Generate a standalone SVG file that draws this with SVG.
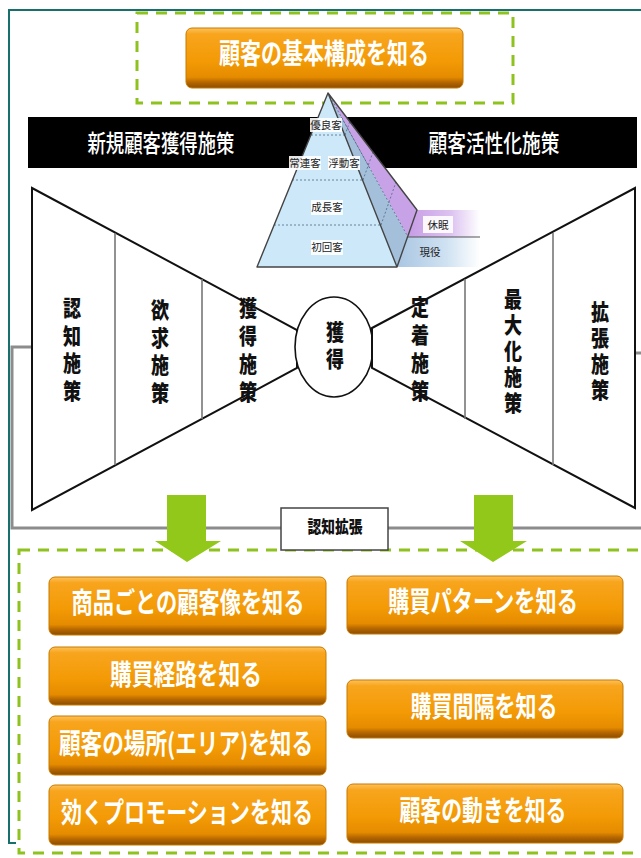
<svg xmlns="http://www.w3.org/2000/svg" width="641" height="858" viewBox="0 0 641 858">
<style>
.jp{font-family:"Noto Sans CJK JP","Noto Sans CJK SC",sans-serif}
.ob{fill:url(#og);stroke:#C67A00;stroke-width:1}
.ot{fill:#fff;font-size:28px;font-weight:700;text-anchor:middle}
.vt{fill:#111;font-size:22px;font-weight:900;text-anchor:middle;writing-mode:vertical-rl;text-orientation:upright}
.lab{fill:#222;font-size:10.5px;text-anchor:middle}
.lbg{fill:#fff;opacity:0.9}
.dash{fill:none;stroke:#8DC21F;stroke-width:3;stroke-dasharray:11 8}
.fl{fill:#fff;stroke:#111;stroke-width:2}
.div{stroke:#777;stroke-width:1.6}
.pd{stroke:#4a6a86;stroke-width:0.8;stroke-dasharray:2 2;fill:none}
.ga{fill:#92C81A}
</style>
<defs>
<linearGradient id="og" x1="0" y1="0" x2="0" y2="1">
<stop offset="0" stop-color="#FDC25A"/>
<stop offset="0.1" stop-color="#F8A51E"/>
<stop offset="0.55" stop-color="#F39A05"/>
<stop offset="0.82" stop-color="#E58B00"/>
<stop offset="0.9" stop-color="#B86800"/>
<stop offset="1" stop-color="#8A4C00"/>
</linearGradient>
<linearGradient id="pg" x1="0" y1="0" x2="1" y2="0">
<stop offset="0" stop-color="#C79CE6"/>
<stop offset="0.6" stop-color="#DCC3F0"/>
<stop offset="1" stop-color="#FFFFFF"/>
</linearGradient>
<linearGradient id="bg2" x1="0" y1="0" x2="1" y2="0">
<stop offset="0" stop-color="#A9C6E2"/>
<stop offset="0.6" stop-color="#D0E2F2"/>
<stop offset="1" stop-color="#FFFFFF"/>
</linearGradient>
</defs>
<rect width="641" height="858" fill="#fff"/>
<path d="M641,10 H9 V843 H16" fill="none" stroke="#17706E" stroke-width="2"/>

<g id="top-area">
<rect class="dash" x="137" y="13" width="376" height="90"/>
<g id="node-basic">
<rect class="ob" x="186" y="28" width="277" height="60" rx="6"/>
<text class="jp ot" x="324" y="64" textLength="210" lengthAdjust="spacingAndGlyphs">顧客の基本構成を知る</text>
</g>
</g>

<g id="header-bar">
<rect x="28" y="117" width="609" height="51" fill="#000"/>
<text class="jp" x="161" y="152" fill="#fff" font-size="24" font-weight="500" text-anchor="middle" textLength="147" lengthAdjust="spacingAndGlyphs">新規顧客獲得施策</text>
<text class="jp" x="494" y="152" fill="#fff" font-size="24" font-weight="500" text-anchor="middle" textLength="131" lengthAdjust="spacingAndGlyphs">顧客活性化施策</text>
</g>

<g id="connectors">
<path d="M635,353 H652 V528 H12 V347 H32" fill="none" stroke="#8C8C8C" stroke-width="3"/>
<polygon points="31,341 41,347 31,353" fill="#8C8C8C"/>
</g>

<g id="funnel-left">
<polygon class="fl" points="32,188 297,330 297,368 32,510"/>
<line class="div" x1="115" y1="233" x2="115" y2="465"/>
<line class="div" x1="202" y1="279" x2="202" y2="419"/>
<text class="jp vt" transform="translate(72,0) scale(0.82,1)" x="0" y="352" letter-spacing="5.7">認知施策</text>
<text class="jp vt" transform="translate(160,0) scale(0.82,1)" x="0" y="354" letter-spacing="5.7">欲求施策</text>
<text class="jp vt" transform="translate(248,0) scale(0.82,1)" x="0" y="353" letter-spacing="6">獲得施策</text>
</g>

<g id="node-acquire">
<ellipse cx="334" cy="347" rx="39" ry="50" fill="#fff" stroke="#111" stroke-width="1.6"/>
<text class="jp vt" transform="translate(335,0) scale(0.82,1)" x="0" y="348" letter-spacing="5">獲得</text>
</g>

<g id="funnel-right">
<polygon class="fl" points="372,328 635,188 635,508 372,368"/>
<line class="div" x1="465" y1="279" x2="465" y2="419"/>
<line class="div" x1="553" y1="233" x2="553" y2="465"/>
<text class="jp vt" transform="translate(420,0) scale(0.82,1)" x="0" y="352" letter-spacing="6">定着施策</text>
<text class="jp vt" transform="translate(513,0) scale(0.82,1)" x="0" y="353" letter-spacing="4">最大化施策</text>
<text class="jp vt" transform="translate(600,0) scale(0.82,1)" x="0" y="353" letter-spacing="4">拡張施策</text>
</g>

<g id="pyramid">
<polygon points="417,210 480,210 480,237 408,237" fill="url(#pg)"/>
<polygon points="408,237 480,237 480,267 397,267" fill="url(#bg2)"/>
<line x1="408" y1="237" x2="480" y2="237" stroke="#555" stroke-width="1.2"/>
<polygon points="328,93 417,210 408,237" fill="#C8A2E6"/>
<polygon points="328,93 408,237 397,267" fill="#A3BFDA"/>
<polygon points="328,93 257,267 397,267" fill="#CDE8F8"/>
<line class="pd" x1="311" y1="135" x2="345" y2="135"/>
<line class="pd" x1="292" y1="180" x2="363" y2="180"/>
<line class="pd" x1="274" y1="225" x2="381" y2="225"/>
<line class="pd" x1="345" y1="135" x2="350" y2="121"/>
<line class="pd" x1="363" y1="180" x2="373" y2="152"/>
<line class="pd" x1="381" y1="225" x2="396" y2="182"/>
<line class="pd" x1="328" y1="93" x2="408" y2="237"/>
<path d="M328,93 L257,267 H397 Z M328,93 L417,210 L397,267" fill="none" stroke="#444" stroke-width="1.4" stroke-linejoin="round"/>
<rect class="lbg" x="310" y="118" width="32" height="14"/>
<text class="jp lab" x="326" y="129">優良客</text>
<rect class="lbg" x="289" y="156" width="32" height="14"/>
<text class="jp lab" x="305" y="167">常連客</text>
<rect class="lbg" x="328" y="156" width="32" height="14"/>
<text class="jp lab" x="344" y="167">浮動客</text>
<rect class="lbg" x="311" y="200" width="32" height="15"/>
<text class="jp lab" x="327" y="211">成長客</text>
<rect class="lbg" x="311" y="240" width="32" height="15"/>
<text class="jp lab" x="327" y="251">初回客</text>
<rect class="lbg" x="423" y="216" width="30" height="17"/>
<text class="jp lab" x="438" y="229">休眠</text>
<text class="jp lab" x="430" y="256">現役</text>
</g>

<g id="bottom-area">
<rect class="dash" x="19" y="550" width="640" height="303"/>
</g>

<g id="node-ninchi">
<rect x="281" y="508" width="107" height="42" fill="#fff" stroke="#444" stroke-width="1.5"/>
<text class="jp" x="335" y="533" fill="#111" font-size="17" font-weight="900" text-anchor="middle" textLength="55" lengthAdjust="spacingAndGlyphs">認知拡張</text>
</g>

<g id="arrows">
<polygon class="ga" points="167,495 206,495 206,541 221,541 187,562 155,541 167,541"/>
<polygon class="ga" points="474,495 513,495 513,541 527,541 493,562 460,541 474,541"/>
</g>

<g id="node-shohin">
<rect class="ob" x="49" y="577" width="277" height="58" rx="6"/>
<text class="jp ot" x="188" y="613" textLength="233" lengthAdjust="spacingAndGlyphs">商品ごとの顧客像を知る</text>
</g>
<g id="node-pattern">
<rect class="ob" x="347" y="576" width="276" height="58" rx="6"/>
<text class="jp ot" x="483" y="612" textLength="190" lengthAdjust="spacingAndGlyphs">購買パターンを知る</text>
</g>
<g id="node-keiro">
<rect class="ob" x="49" y="647" width="277" height="58" rx="6"/>
<text class="jp ot" x="186" y="685" textLength="152" lengthAdjust="spacingAndGlyphs">購買経路を知る</text>
</g>
<g id="node-kankaku">
<rect class="ob" x="347" y="680" width="276" height="58" rx="6"/>
<text class="jp ot" x="484" y="717" textLength="147" lengthAdjust="spacingAndGlyphs">購買間隔を知る</text>
</g>
<g id="node-basho">
<rect class="ob" x="49" y="716" width="277" height="59" rx="6"/>
<text class="jp ot" x="186" y="754" textLength="254" lengthAdjust="spacingAndGlyphs">顧客の場所(エリア)を知る</text>
</g>
<g id="node-promo">
<rect class="ob" x="49" y="785" width="277" height="60" rx="6"/>
<text class="jp ot" x="187" y="823" textLength="252" lengthAdjust="spacingAndGlyphs">効くプロモーションを知る</text>
</g>
<g id="node-ugoki">
<rect class="ob" x="347" y="784" width="276" height="59" rx="6"/>
<text class="jp ot" x="483" y="821" textLength="167" lengthAdjust="spacingAndGlyphs">顧客の動きを知る</text>
</g>
</svg>
